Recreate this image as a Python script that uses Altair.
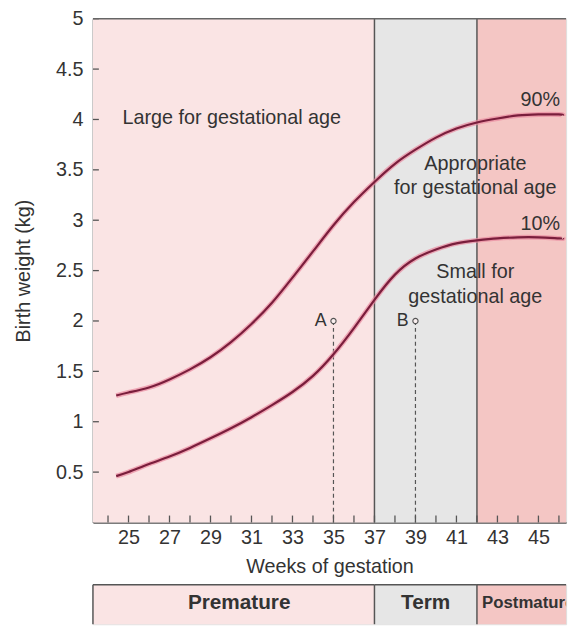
import altair as alt
import pandas as pd

# ---------------- data ----------------
weeks = [24.4, 25, 26, 27, 28, 29, 30, 31, 32, 33, 34, 35, 36, 37, 38, 39, 40, 41, 42, 43, 44, 45, 46, 46.2]
p90 = [1.26, 1.29, 1.34, 1.42, 1.52, 1.64, 1.79, 1.97, 2.18, 2.43, 2.69, 2.95, 3.18, 3.38, 3.56, 3.70, 3.82, 3.91, 3.97, 4.01, 4.04, 4.05, 4.05, 4.04]
p10 = [0.46, 0.50, 0.58, 0.655, 0.74, 0.835, 0.935, 1.045, 1.165, 1.295, 1.455, 1.67, 1.93, 2.21, 2.46, 2.62, 2.71, 2.77, 2.80, 2.82, 2.83, 2.83, 2.82, 2.82]

zone_names = ["Premature", "Term", "Postmature"]
zone_start = [23.265, 37, 42]
zone_end = [37, 42, 46.35]
zone_colors = ["#fae4e4", "#e6e6e6", "#f4c6c4"]
zone_label_x = [30.4, 39.5, 42.25]

x_ticks_minor = list(range(24, 47))
x_tick_labels = list(range(25, 46, 2))
y_tick_values = [0.5, 1, 1.5, 2, 2.5, 3, 3.5, 4, 4.5, 5]

marker_weeks = [35, 39]
marker_kg = [2.0, 2.0]
marker_labels = ["A", "B"]

annot_text = ["Large for gestational age", "90%", "Appropriate", "for gestational age",
              "10%", "Small for", "gestational age"]
annot_x = [24.71, 46.06, 41.92, 41.92, 46.06, 41.92, 41.92]
annot_y = [4.01, 4.19, 3.56, 3.32, 2.96, 2.49, 2.24]
annot_align = ["left", "right", "center", "center", "right", "center", "center"]

FONT = "Liberation Sans"
TXT = "#333333"
LINE = "#555555"
W, H = 479, 510

x_dom = [zone_start[0], zone_end[-1]]
xs = alt.Scale(domain=x_dom, nice=False, zero=False)
ys = alt.Scale(domain=[0, 5], nice=False)

zones_df = pd.DataFrame({"zone": zone_names, "start": zone_start, "end": zone_end,
                         "color": zone_colors, "lx": zone_label_x})
curve_df = pd.concat([
    pd.DataFrame({"week": weeks, "kg": p90, "series": "90%"}),
    pd.DataFrame({"week": weeks, "kg": p10, "series": "10%"}),
])
xt_df = pd.DataFrame({"w": x_ticks_minor})
yt_df = pd.DataFrame({"v": y_tick_values})
mk_df = pd.DataFrame({"w": marker_weeks, "kg": marker_kg, "lab": marker_labels})
an_df = pd.DataFrame({"t": annot_text, "x": annot_x, "y": annot_y, "al": annot_align})
div_df = pd.DataFrame({"b": zone_start[1:]})
top_df = pd.DataFrame({"v": [5]})

x_axis = alt.Axis(values=x_tick_labels, ticks=False, domain=True, domainColor=LINE, domainWidth=1.5,
                  labelFontSize=20, labelFont=FONT, labelColor=TXT, labelPadding=5, labelFlush=False,
                  title="Weeks of gestation", titleFontSize=20, titleFont=FONT, titleColor=TXT,
                  titleFontWeight="normal", titlePadding=10, grid=False)
y_axis = alt.Axis(values=y_tick_values, format="~g", ticks=False, domain=True, domainColor=LINE,
                  domainWidth=1.5, labelFontSize=20, labelFont=FONT, labelColor=TXT, labelPadding=10,
                  labelFlush=False, title="Birth weight (kg)", titleFontSize=20, titleFont=FONT,
                  titleColor=TXT, titleFontWeight="normal", titlePadding=22, grid=False)


def X(field):
    return alt.X(field, scale=xs, axis=x_axis, title="Weeks of gestation")


def Y(field):
    return alt.Y(field, scale=ys, axis=y_axis, title="Birth weight (kg)")


bg = alt.Chart(zones_df).mark_rect().encode(
    x=X("start:Q"), x2="end:Q", y=alt.datum(0), y2=alt.datum(5),
    color=alt.Color("color:N", scale=None))

yticks = alt.Chart(yt_df).mark_rule(color=LINE, strokeWidth=1.3).encode(
    y=Y("v:Q"), x=alt.value(0), x2=alt.value(6))

xticks = alt.Chart(xt_df).mark_rule(color=LINE, strokeWidth=1.3).encode(
    x=X("w:Q"), y=alt.value(H), y2=alt.value(H - 7))

toprule = alt.Chart(top_df).mark_rule(color="#666666", strokeWidth=1.5).encode(y=Y("v:Q"))

dividers = alt.Chart(div_df).mark_rule(color=LINE, strokeWidth=1.5).encode(x=X("b:Q"))

dashes = alt.Chart(mk_df).mark_rule(color=LINE, strokeWidth=1.2, strokeDash=[4, 3]).encode(
    x=X("w:Q"), y=Y("kg:Q"), y2=alt.datum(0))

circles = alt.Chart(mk_df).mark_point(shape="circle", size=28, filled=True, fill="#fbf0f0",
                                      stroke=LINE, strokeWidth=1.2, opacity=1).encode(
    x=X("w:Q"), y=Y("kg:Q"))

mk_text = alt.Chart(mk_df).mark_text(align="right", baseline="middle", dx=-7, fontSize=18,
                                     font=FONT, color=TXT).encode(
    x=X("w:Q"), y=Y("kg:Q"), text="lab:N")

halo = alt.Chart(curve_df).mark_line(interpolate="natural", color="#e98aa0", strokeWidth=5,
                                     opacity=0.7).encode(
    x=X("week:Q"), y=Y("kg:Q"), detail="series:N")
core = alt.Chart(curve_df).mark_line(interpolate="natural", color="#7a1e3c", strokeWidth=2.2).encode(
    x=X("week:Q"), y=Y("kg:Q"), detail="series:N")


def annot(al):
    return alt.Chart(an_df).transform_filter(alt.datum.al == al).mark_text(
        align=al, baseline="middle", fontSize=20, font=FONT, color=TXT).encode(
        x=X("x:Q"), y=Y("y:Q"), text="t:N")


top = alt.layer(bg, dividers, xticks, yticks, toprule, dashes, circles, mk_text, halo, core,
                annot("left"), annot("center"), annot("right")).properties(width=W, height=H)

# ---------------- bottom band ----------------
BH = 40
bxs = alt.Scale(domain=x_dom, nice=False, zero=False)
band = alt.Chart(zones_df).mark_rect().encode(
    x=alt.X("start:Q", scale=bxs, axis=None), x2="end:Q", color=alt.Color("color:N", scale=None))
band_top = alt.Chart(zones_df).mark_rule(color=LINE, strokeWidth=1.5).encode(
    x=alt.X("start:Q", scale=bxs, axis=None), x2="end:Q", y=alt.value(0))
band_div = alt.Chart(zones_df).mark_rule(color=LINE, strokeWidth=1.5).encode(
    x=alt.X("start:Q", scale=bxs, axis=None))
band_txt_c = alt.Chart(zones_df).transform_filter(alt.datum.zone != "Postmature").mark_text(
    align="center", baseline="alphabetic", fontSize=21, fontWeight="bold", font=FONT,
    color=TXT).encode(
    x=alt.X("lx:Q", scale=bxs, axis=None), y=alt.value(25), text="zone:N")
band_txt_p = alt.Chart(zones_df).transform_filter(alt.datum.zone == "Postmature").mark_text(
    align="left", baseline="alphabetic", fontSize=17, fontWeight="bold", font=FONT, color=TXT,
    clip=True).encode(
    x=alt.X("lx:Q", scale=bxs, axis=None), y=alt.value(24), text="zone:N")
bottom = alt.layer(band, band_top, band_div, band_txt_c, band_txt_p).properties(width=W, height=BH)

chart = alt.vconcat(top, bottom, spacing=5).resolve_scale(
    x="independent", y="independent").properties(
    padding={"left": 5, "top": -4, "right": 0, "bottom": 0}
).configure_view(stroke=None).configure(font=FONT, background="white")

chart.save("out.html", embed_options={"renderer": "svg", "actions": False})
